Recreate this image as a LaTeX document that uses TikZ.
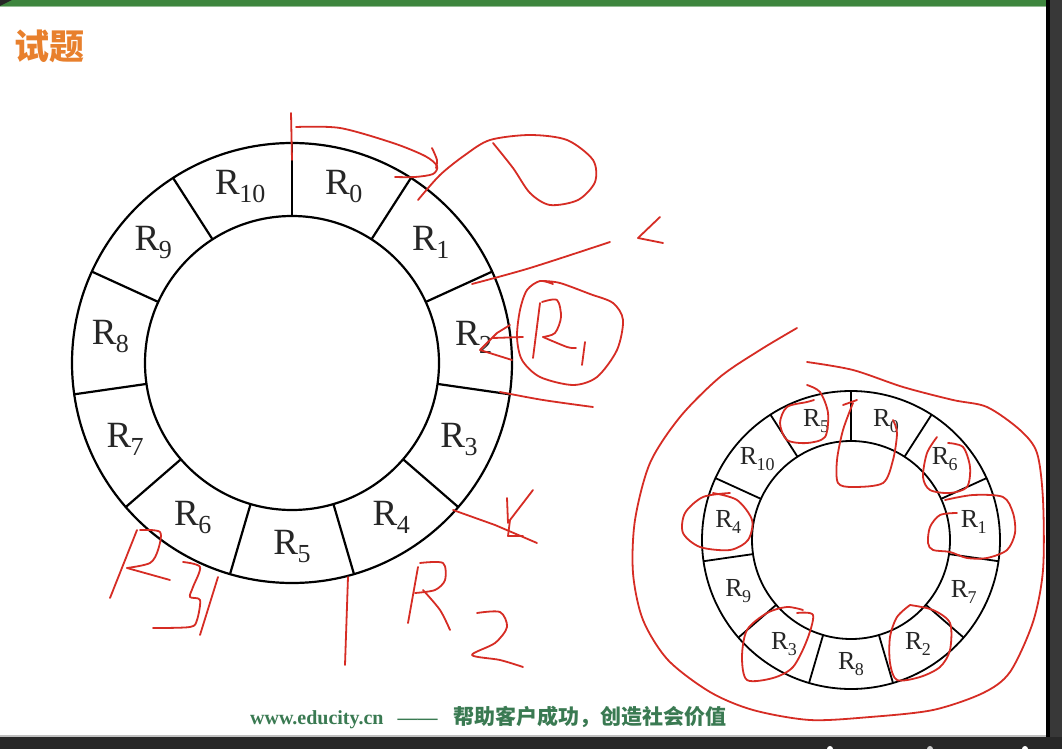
\documentclass[tikz,border=0pt]{standalone}
\usepackage{fontspec}
\setmainfont{Liberation Serif}
\newfontfamily\cjk{Noto Sans CJK SC}
\definecolor{inkred}{RGB}{214,44,36}
\definecolor{barGreen}{RGB}{62,134,62}
\definecolor{titleOrange}{RGB}{232,128,45}
\definecolor{footGreen}{RGB}{58,122,82}
\definecolor{frameDark}{RGB}{40,40,40}
\newcommand{\RB}[1]{R\kern-0.5pt\raisebox{-8pt}{\fontsize{26}{26}\selectfont #1}}
\newcommand{\RS}[1]{R\kern-0.5pt\raisebox{-6pt}{\fontsize{18}{18}\selectfont #1}}
\tikzset{
  ringline/.style={draw=black, line width=2.2pt},
  ink/.style={draw=inkred, line width=1.8pt, line cap=round, line join=round},
  bigl/.style={font=\fontsize{37}{39}\selectfont, inner sep=0pt, text=black!85},
  smalll/.style={font=\fontsize{26}{28}\selectfont, inner sep=0pt, text=black!85},
}
\begin{document}
\begin{tikzpicture}[x=1pt,y=-1pt]
\useasboundingbox (0,0) rectangle (1062,749);
\fill[white] (0,0) rectangle (1062,749);
% frame of the slide
\fill[barGreen] (0,0) rectangle (1062,6);
\fill[barGreen!55] (0,6) rectangle (1046,7.5);
\fill[black!85] (0,0) -- (12,0) -- (0,6) -- cycle;
\fill[black] (1046,0) rectangle (1050,749);
\fill[black!78] (1050,0) rectangle (1062,749);
\fill[black!25] (0,734.5) rectangle (1046,736.5);
\fill[frameDark] (0,736.5) rectangle (1062,749);
\fill[white] (830,749) circle (3);
\fill[white!80!black] (930,749) circle (3);
\fill[white] (1025,749) circle (3);

% title and footer
\node[anchor=west, inner sep=0pt, text=titleOrange, font=\cjk\bfseries\fontsize{35}{37}\selectfont] (title) at (14,46) {试题};
\node[anchor=west, inner sep=0pt, text=footGreen, font=\bfseries\fontsize{20}{22}\selectfont] (footer) at (250,717)
  {www.educity.cn\hspace{14pt}——\hspace{16pt}{\cjk\bfseries\fontsize{21}{22}\selectfont 帮助客户成功，创造社会价值}};

% big ring
\begin{scope}[shift={(292,363)}]
  \draw[ringline] (0,0) circle (220pt);
  \draw[ringline] (0,0) circle (147pt);
  \foreach \i in {0,...,10} {
    \draw[ringline] (90-\i*32.7273:147pt) -- (90-\i*32.7273:220pt);
  }
  \foreach \n [count=\i from 0] in {0,...,10} {
    \node[bigl] (b\n) at (73.636-\i*32.7273:183.5pt) {\RB{\n}};
  }
\end{scope}

% small ring
\begin{scope}[shift={(851,540)}]
  \draw[ringline, line width=1.8pt] (0,0) circle (149pt);
  \draw[ringline, line width=1.8pt] (0,0) circle (99pt);
  \foreach \i in {0,...,10} {
    \draw[ringline, line width=1.8pt] (90-\i*32.7273:99pt) -- (90-\i*32.7273:149pt);
  }
  \foreach \n [count=\i from 0] in {0,6,1,7,2,8,3,9,4,10,5} {
    \node[smalll] (s\n) at (73.636-\i*32.7273:124pt) {\RS{\n}};
  }
\end{scope}

% red handwriting, big ring
\draw[ink] (291,113) -- (292,160);
\draw[ink] plot[smooth] coordinates {(296,127) (340,128) (393,143) (425,156) (437,166) (433,174) (415,177) (395,177)};
\draw[ink] plot[smooth] coordinates {(432,148) (437,160) (436,168)};
\draw[ink] plot[smooth] coordinates {(418,200) (440,175) (465,155) (490,140) (530,135) (567,140) (593,160) (595,182) (578,200) (550,205) (530,193) (513,168) (493,143)};
\draw[ink] plot[smooth] coordinates {(472,284) (530,268) (610,242)};
\draw[ink] (660,217) -- (638,238) -- (663,243);
\draw[ink] plot[smooth] coordinates {(553,284) (540,281) (527,290) (520,310) (517,337) (522,360) (540,377) (573,385) (597,377) (617,350) (623,320) (613,303) (590,294) (560,283) (543,281)};
\draw[ink] (540,303) -- (533,358);
\draw[ink] plot[smooth] coordinates {(542,302) (557,300) (561,317) (555,333) (543,337)};
\draw[ink] plot[smooth] coordinates {(543,337) (567,347) (576,348)};
\draw[ink] (585,342) -- (582,365);
\draw[ink] (510,325) -- (497,333) -- (480,350) -- (512,360);
\draw[ink] (493,338) -- (523,337);
\draw[ink] plot[smooth] coordinates {(500,392) (543,400) (593,407)};
\draw[ink] (453,510) -- (495,525) -- (537,543);
\draw[ink] (507,498) -- (508,523);
\draw[ink] (533,490) -- (510,520) -- (508,536) -- (523,536);
\draw[ink] (418,567) -- (408,623);
\draw[ink] plot[smooth] coordinates {(420,563) (443,563) (445,580) (435,590) (415,593)};
\draw[ink] plot[smooth] coordinates {(423,590) (440,610) (450,630)};
\draw[ink] plot[smooth] coordinates {(477,613) (500,612) (507,627) (495,643) (472,655) (500,660) (523,667)};
\draw[ink] (348,577) -- (345,665);
\draw[ink] (137,530) -- (110,598);
\draw[ink] plot[smooth] coordinates {(140,530) (160,532) (158,550) (150,563) (127,568)};
\draw[ink] (127,568) -- (170,580);
\draw[ink] plot[smooth] coordinates {(183,562) (200,567) (193,587) (190,597) (200,600) (197,620) (190,627) (153,628)};
\draw[ink] (218,577) -- (200,635);

% red handwriting, small ring
\draw[ink] plot[smooth] coordinates {(797,328) (760,350) (720,377) (680,417) (650,463) (635,520) (633,573) (643,620) (668,660) (710,692) (753,710) (810,720) (870,717) (933,710) (983,693) (1010,672) (1033,622) (1043,570) (1043,500) (1037,453) (1020,430) (987,407) (953,400) (903,387) (853,370) (807,362)};
\draw[ink] plot[smooth] coordinates {(807,385) (820,392) (828,413) (825,437) (807,443) (787,440) (780,423) (787,407) (807,402) (814,400)};
\draw[ink] (843,405) -- (857,400);
\draw[ink] plot[smooth] coordinates {(853,403) (843,430) (837,460) (838,483) (853,487) (883,483) (893,460) (897,433) (893,420)};
\draw[ink] plot[smooth] coordinates {(948,443) (963,447) (970,467) (967,487) (950,493) (930,490) (923,477) (927,453) (937,437)};
\draw[ink] plot[smooth] coordinates {(713,493) (737,500) (752,520) (748,540) (730,550) (700,547) (683,533) (685,513) (703,497) (730,493)};
\draw[ink] plot[smooth] coordinates {(957,513) (940,515) (930,527) (928,543) (933,550) (950,552) (967,558) (987,558) (1007,550) (1015,533) (1013,513) (1003,497) (973,495) (945,500)};
\draw[ink] plot[smooth] coordinates {(797,613) (813,615) (807,640) (793,667) (773,678) (747,680) (742,657) (747,630) (767,613) (787,607) (803,610)};
\draw[ink] plot[smooth] coordinates {(910,605) (933,610) (950,623) (950,650) (940,667) (920,677) (897,680) (890,663) (890,637) (897,617) (910,605)};
\end{tikzpicture}
\end{document}
